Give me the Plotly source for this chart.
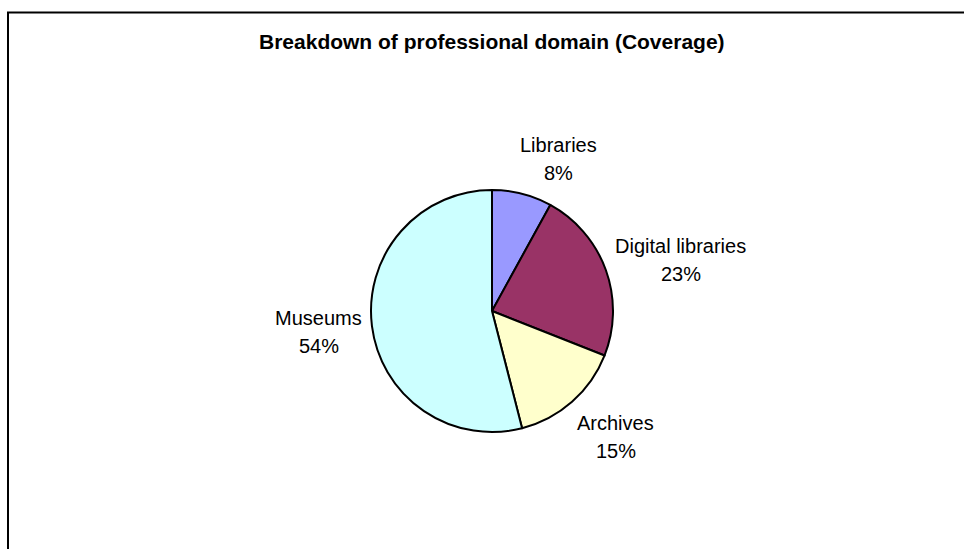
import math
import plotly.graph_objects as go

# ---- data ----
categories = ["Libraries", "Digital libraries", "Archives", "Museums"]
values = [8, 23, 15, 54]
pct_labels = ["8%", "23%", "15%", "54%"]
colors = ["#9999FF", "#993366", "#FFFFCC", "#CCFFFF"]
title_text = "Breakdown of professional domain (Coverage)"

# ---- layout (pixels) ----
W, H = 964, 549
CX, CY, R = 492, 311, 121          # pie centre / radius in px
LABEL_FACTOR = 1.42                # radial distance of labels (in radii)
LABEL_NUDGE = [(24, 14), (27, 7), (10, -3), (-3, -1)]  # fine style offsets (px)
LINE_GAP = 14                      # half spacing between label lines (px)
FONT = "Arial, 'Liberation Sans', sans-serif"


def px_to_paper(x, y):
    return x / W, 1 - y / H


fig = go.Figure()
fig.add_trace(go.Pie(
    labels=categories,
    values=values,
    sort=False,
    direction="clockwise",
    rotation=0,
    marker=dict(colors=colors, line=dict(color="#000000", width=2)),
    textinfo="none",
    hoverinfo="label+percent",
    showlegend=False,
    domain=dict(x=[(CX - R) / W, (CX + R) / W],
                y=[1 - (CY + R) / H, 1 - (CY - R) / H]),
))

# labels placed along the mid-angle of each slice
total = sum(values)
cum = 0
annotations = []
for i, (name, v) in enumerate(zip(categories, values)):
    mid = (cum + v / 2) / total * 2 * math.pi
    cum += v
    lx = CX + LABEL_FACTOR * R * math.sin(mid) + LABEL_NUDGE[i][0]
    ly = CY - LABEL_FACTOR * R * math.cos(mid) + LABEL_NUDGE[i][1]
    for txt, dy in ((name, -LINE_GAP), (pct_labels[i], LINE_GAP)):
        px, py = px_to_paper(lx, ly + dy)
        annotations.append(dict(
            x=px, y=py, xref="paper", yref="paper", text=txt,
            showarrow=False, xanchor="center", yanchor="middle",
            font=dict(family=FONT, size=20, color="#000000"),
        ))

tx, ty = px_to_paper(492, 42)
annotations.append(dict(
    x=tx, y=ty, xref="paper", yref="paper", text="<b>" + title_text + "</b>",
    showarrow=False, xanchor="center", yanchor="middle",
    font=dict(family=FONT, size=21, color="#000000"),
))

fig.update_layout(
    width=W, height=H,
    margin=dict(l=0, r=0, t=0, b=0),
    paper_bgcolor="#FFFFFF",
    plot_bgcolor="#FFFFFF",
    annotations=annotations,
    shapes=[dict(
        type="rect", xref="paper", yref="paper",
        x0=8 / W, x1=1.05, y0=-0.05, y1=1 - 12.5 / H,
        line=dict(color="#000000", width=2), fillcolor="rgba(0,0,0,0)",
    )],
)

fig.write_html("out.html")
